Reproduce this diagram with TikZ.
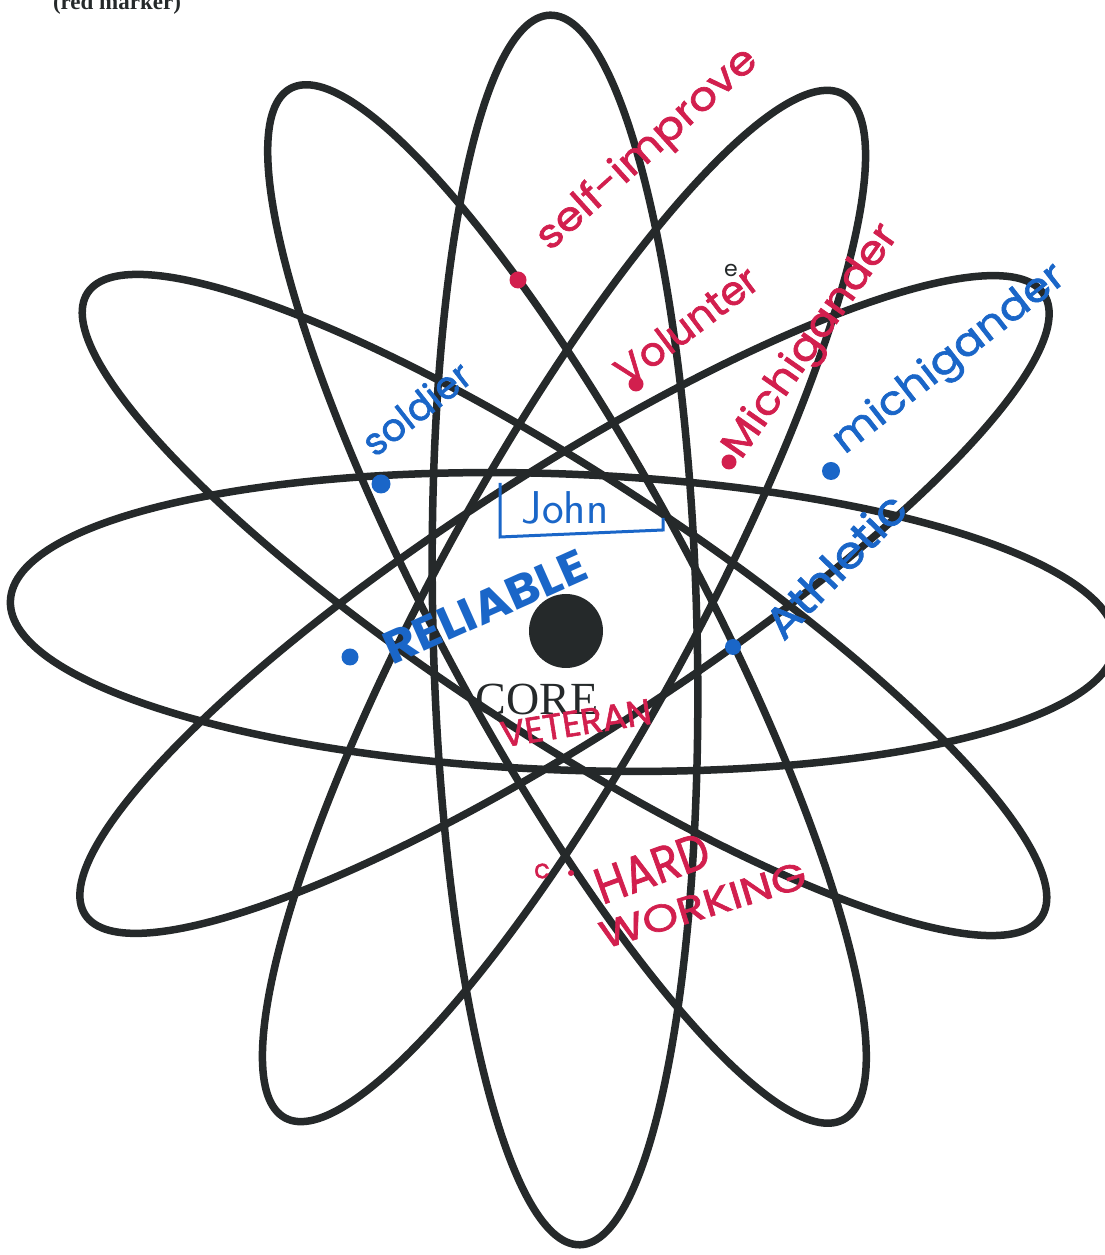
\documentclass[tikz,border=0pt]{standalone}
\usepackage{fontspec}
\setmainfont{Liberation Serif}
\newfontfamily\hand[FakeBold=1.6]{Poppins}
\newfontfamily\handbold{Poppins}
\newcommand{\fsz}[1]{\fontsize{#1}{#1}\selectfont}
\definecolor{ink}{HTML}{25292A}
\definecolor{redm}{HTML}{D21F4E}
\definecolor{bluem}{HTML}{1A66C8}
\tikzset{
  orbit/.style={draw=ink, line width=7.5pt},
  hw/.style={inner sep=0pt, outer sep=0pt},
  redtxt/.style={hw, text=redm},
  bluetxt/.style={hw, text=bluem},
  rdot/.style={circle, fill=redm, inner sep=0pt, minimum size=#1},
  bdot/.style={circle, fill=bluem, inner sep=0pt, minimum size=#1},
}
\begin{document}
\begin{tikzpicture}[x=1pt, y=1pt]
\clip (0,0) rectangle (1105,1255);
\fill[white] (0,0) rectangle (1105,1255);

% orbits
\draw[orbit, rotate around={-2.2:(563,633)}] (563,633) ellipse [x radius=553pt, y radius=148pt];
\draw[orbit, rotate around={91.4:(565,625)}] (565,625) ellipse [x radius=615pt, y radius=132pt];
\draw[orbit, rotate around={-61.8:(567,651)}] (567,651) ellipse [x radius=585pt, y radius=130pt];
\draw[orbit, rotate around={61.4:(564,649)}] (564,649) ellipse [x radius=583pt, y radius=130pt];
\draw[orbit, rotate around={-33.2:(564.5,650)}] (564.5,650) ellipse [x radius=570pt, y radius=130pt];
\draw[orbit, rotate around={32.9:(564.5,650.5)}] (564.5,650.5) ellipse [x radius=571pt, y radius=130pt];

% core
\node[circle, fill=ink, inner sep=0pt, minimum size=74pt] (core) at (566,624) {};
\node[hw, text=ink, font=\fsz{46}] (corelbl) at (537,555) {CORE};

% title
\node[hw, anchor=base west, text=ink, font=\bfseries\fsz{23}] (title) at (53,1245) {(red marker)};

% red labels
\node[rdot=17pt] (rd1) at (518,975) {};
\node[redtxt, rotate=42, xscale=1.1, transform shape, font=\hand\fsz{40}] (selfimp) at (648,1105) {self-improve};
\node[rdot=15pt] (rd2) at (636,871) {};
\node[redtxt, rotate=37, transform shape, font=\hand\fsz{40}] (volunt) at (686,930) {Volunter};
\node[hw, text=ink, font=\handbold\fsz{22}] (esmall) at (731,985) {e};
\node[rdot=15pt] (rd3) at (729,793) {};
\node[redtxt, rotate=55, xscale=1.1, transform shape, font=\hand\fsz{40}] (michr) at (812,913) {Michigander};
\node[redtxt, rotate=9, transform shape, font=\hand\fsz{36}] (veteran) at (576,532) {VETERAN};
\node[redtxt, rotate=20, yscale=1.15, transform shape, font=\hand\fsz{44}] (hard) at (652,387) {HARD};
\node[redtxt, rotate=17, xscale=1.2, transform shape, font=\hand\fsz{38}] (working) at (703,350) {WORKING};
\node[redtxt, font=\hand\fsz{26}] (cmark) at (542,384) {c};
\node[rdot=6pt] (rd4) at (571,382) {};

% blue labels
\node[bdot=19pt] (bd1) at (381,771) {};
\node[bluetxt, rotate=38, transform shape, font=\hand\fsz{38}] (soldier) at (416,847) {soldier};
\node[bluetxt, font=\sffamily\fsz{46}] (john) at (565,747) {John};
\draw[draw=bluem, line width=3pt] (500,772) -- (500,718) -- (663,725) -- (663,737);
\node[bdot=17pt] (bd2) at (350,598) {};
\node[bluetxt, rotate=24, xscale=1.08, transform shape, font=\handbold\bfseries\fsz{46}] (reliable) at (485,648) {RELIABLE};
\node[bdot=18pt] (bd3) at (831,784) {};
\node[bluetxt, rotate=38, xscale=1.1, transform shape, font=\hand\fsz{40}] (michb) at (950,895) {michigander};
\node[bdot=16pt] (bd4) at (733,608) {};
\node[bluetxt, rotate=46, xscale=1.1, transform shape, font=\hand\fsz{44}] (athletic) at (835,690) {Athletic};
\end{tikzpicture}
\end{document}
